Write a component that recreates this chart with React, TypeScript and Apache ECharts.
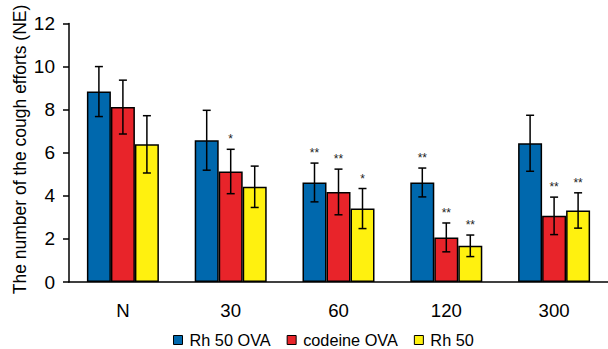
import React, { useEffect, useRef } from "react";
import * as echarts from "echarts";

const categories = ["N", "30", "60", "120", "300"];
const seriesNames = ["Rh 50 OVA", "codeine OVA", "Rh 50"];
const rhOva = [8.84, 6.58, 4.62, 4.62, 6.44];
const codeineOva = [8.12, 5.13, 4.18, 2.07, 3.07];
const rh50 = [6.39, 4.42, 3.41, 1.68, 3.32];
const rhOvaErr = [1.16, 1.39, 0.9, 0.67, 1.3];
const codeineOvaErr = [1.25, 1.03, 1.06, 0.67, 0.87];
const rh50Err = [1.33, 0.96, 0.93, 0.5, 0.82];
const rhOvaSig = ["", "", "**", "**", ""];
const codeineOvaSig = ["", "*", "**", "**", "**"];
const rh50Sig = ["", "", "*", "**", "**"];
const yTicks = [0, 2, 4, 6, 8, 10, 12];
const yTitle = "The number of the cough efforts (NE)";

const colors = ["#0068ad", "#e8242a", "#fff10f"];
const values = [rhOva, codeineOva, rh50];
const errs = [rhOvaErr, codeineOvaErr, rh50Err];
const sigs = [rhOvaSig, codeineOvaSig, rh50Sig];

const FONT = "Liberation Sans, Arial, sans-serif";
const BAR_W = 24;

export default function App() {
  const ref = useRef<HTMLDivElement>(null);
  useEffect(() => {
    document.body.style.margin = "0";
    if (!ref.current) return;
    const chart = echarts.init(ref.current, undefined, { renderer: "svg" });
    const barSeries = seriesNames.map((name, i) => ({
      name,
      type: "bar",
      data: values[i],
      barWidth: BAR_W,
      barGap: "0%",
      itemStyle: { color: colors[i], borderColor: "#000", borderWidth: 1.5 },
      z: 2,
    }));
    const errSeries = seriesNames.map((name, i) => ({
      name: name + "-err",
      type: "custom",
      z: 3,
      data: values[i].map((v, j) => [j, v, errs[i][j]]),
      renderItem: (params: any, api: any) => {
        const j = api.value(0);
        const v = api.value(1);
        const e = api.value(2);
        const sig = sigs[i][j];
        const c = api.coord([j, v]);
        const x = c[0] + (i - 1) * BAR_W;
        const yTop = api.coord([j, v + e])[1];
        const yBot = api.coord([j, v - e])[1];
        const cap = 4;
        const st = { stroke: "#000", lineWidth: 1.5 };
        const children: any[] = [
          { type: "line", shape: { x1: x, y1: yTop, x2: x, y2: yBot }, style: st },
          { type: "line", shape: { x1: x - cap, y1: yTop, x2: x + cap, y2: yTop }, style: st },
          { type: "line", shape: { x1: x - cap, y1: yBot, x2: x + cap, y2: yBot }, style: st },
        ];
        if (sig) {
          children.push({
            type: "text",
            style: {
              text: sig,
              x,
              y: yTop - 4,
              align: "center",
              verticalAlign: "bottom",
              fontSize: 12,
              fontFamily: FONT,
              fill: "#222",
            },
          });
        }
        return { type: "group", children };
      },
    }));
    chart.setOption({
      animation: false,
      color: colors,
      grid: { left: 69, right: -8, top: 23.5, bottom: 67, containLabel: false },
      graphic: [
        {
          type: "text",
          x: 20,
          y: 149.5,
          rotation: Math.PI / 2,
          style: {
            text: yTitle,
            fontSize: 17.5,
            fontFamily: FONT,
            fill: "#000",
            align: "center",
            verticalAlign: "middle",
          },
        },
      ],
      legend: {
        data: seriesNames.map((n, i) => ({
          name: n,
          icon: "rect",
          itemStyle: { color: colors[i], borderColor: "#000", borderWidth: 1 },
        })),
        top: 327,
        left: 168,
        itemWidth: 9,
        itemHeight: 9,
        itemGap: 16,
        textStyle: { fontSize: 16.3, fontFamily: FONT, color: "#000", padding: [0, 0, 0, 2] },
      },
      xAxis: {
        type: "category",
        data: categories,
        axisLine: { lineStyle: { color: "#000", width: 1.5 } },
        axisTick: { show: false },
        axisLabel: { fontSize: 18.6, fontFamily: FONT, color: "#000", margin: 19 },
      },
      yAxis: {
        type: "value",
        min: yTicks[0],
        max: yTicks[yTicks.length - 1],
        interval: 2,
        splitLine: { show: false },
        axisLine: { show: true, lineStyle: { color: "#000", width: 1.5 } },
        axisTick: { show: true, length: 6, lineStyle: { color: "#000", width: 1.5 } },
        axisLabel: { fontSize: 19, fontFamily: FONT, color: "#000", margin: 14 },
      },
      series: [...barSeries, ...errSeries],
    });
    return () => chart.dispose();
  }, []);
  return <div ref={ref} style={{ width: 608, height: 349 }} />;
}
